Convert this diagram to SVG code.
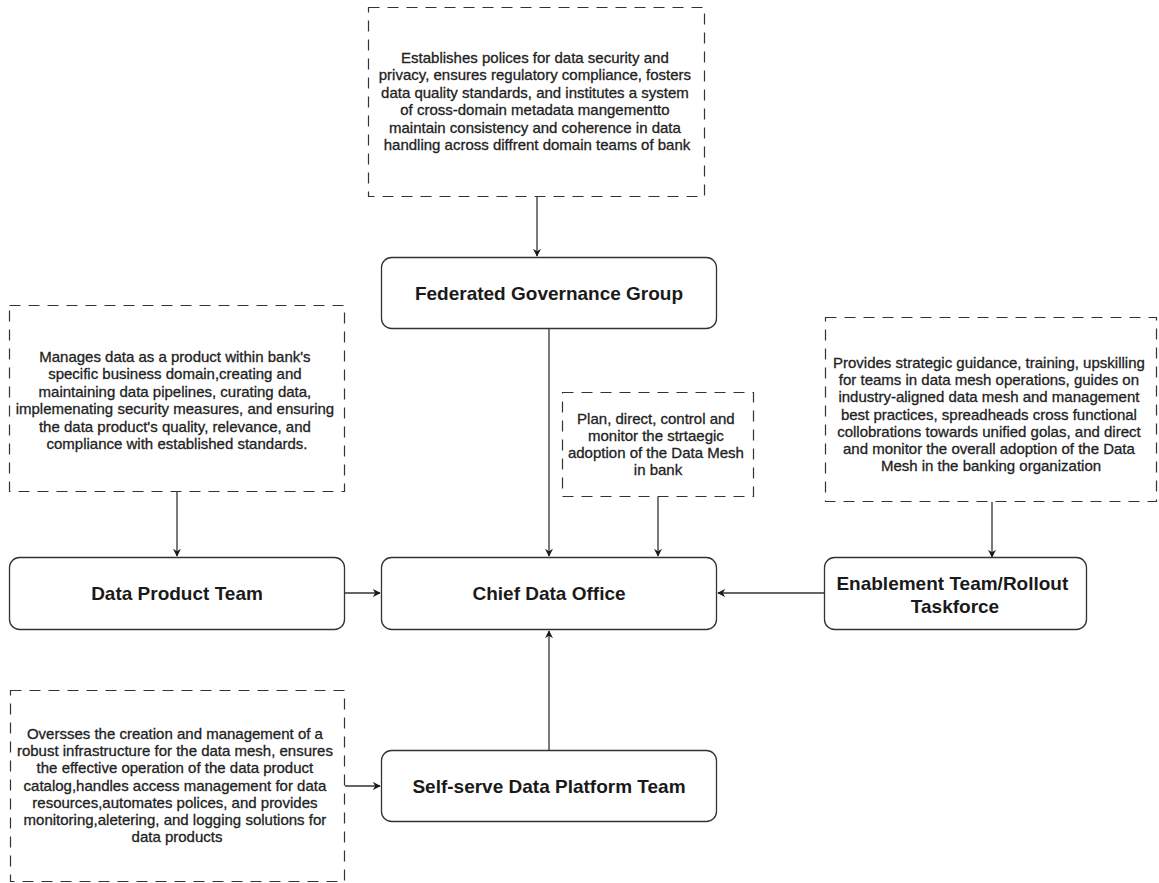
<svg xmlns="http://www.w3.org/2000/svg" width="1159" height="883" viewBox="0 0 1159 883">
  <defs>
    <marker id="arrow" viewBox="0 0 10 10" refX="9" refY="5" markerWidth="8" markerHeight="8" orient="auto" markerUnits="userSpaceOnUse">
      <path d="M0,0 L10,5 L0,10 L3,5 Z" fill="#1a1a1a"/>
    </marker>
    <style>
      .node { fill: #ffffff; stroke: #333333; stroke-width: 1.3; }
      .note { fill: #ffffff; stroke: #333333; stroke-width: 1.2; stroke-dasharray: 11 8; }
      .label { font-family: "Liberation Sans", Arial, sans-serif; font-weight: bold; font-size: 19px; fill: #1a1a1a; text-anchor: middle; }
      .desc { font-family: "Liberation Sans", Arial, sans-serif; font-size: 15px; fill: #222222; stroke: #222222; stroke-width: 0.3; text-anchor: middle; }
      .edge { fill: none; stroke: #333333; stroke-width: 1.3; marker-end: url(#arrow); }
    </style>
  </defs>
  <rect width="1159" height="883" fill="#ffffff"/>

  <!-- connectors -->
  <g id="connectors">
    <path class="edge" d="M537,197 L537,256"/>
    <path class="edge" d="M549,329 L549,556"/>
    <path class="edge" d="M658,497 L658,556"/>
    <path class="edge" d="M177,492 L177,556"/>
    <path class="edge" d="M992,502 L992,557"/>
    <path class="edge" d="M345,593 L380,593"/>
    <path class="edge" d="M824,593 L718,593"/>
    <path class="edge" d="M549,750 L549,631"/>
    <path class="edge" d="M345,786 L380,786"/>
  </g>

  <!-- governance description -->
  <g id="note-governance">
    <rect class="note" x="368.5" y="7.5" width="336" height="189"/>
    <text class="desc">
      <tspan x="537" y="63">Establishes polices for data security and</tspan>
      <tspan x="537" y="80.4">privacy, ensures regulatory compliance, fosters</tspan>
      <tspan x="537" y="97.8">data quality standards, and institutes a system</tspan>
      <tspan x="537" y="115.2">of cross-domain metadata mangementto</tspan>
      <tspan x="537" y="132.6">maintain consistency and coherence in data</tspan>
      <tspan x="537" y="150">handling across diffrent domain teams of bank</tspan>
    </text>
  </g>

  <g id="node-federated-governance">
    <rect class="node" x="381.5" y="257.5" width="335" height="71" rx="10"/>
    <text class="label" x="549" y="300">Federated Governance Group</text>
  </g>

  <!-- data product description -->
  <g id="note-data-product">
    <rect class="note" x="9.5" y="305.5" width="335" height="186"/>
    <text class="desc">
      <tspan x="177" y="362">Manages data as a product within bank's</tspan>
      <tspan x="177" y="379.4">specific business domain,creating and</tspan>
      <tspan x="177" y="396.8">maintaining data pipelines, curating data,</tspan>
      <tspan x="177" y="414.2">implemenating security measures, and ensuring</tspan>
      <tspan x="177" y="431.6">the data product's quality, relevance, and</tspan>
      <tspan x="177" y="449">compliance with established standards.</tspan>
    </text>
  </g>

  <!-- chief data office description -->
  <g id="note-chief-data-office">
    <rect class="note" x="562.5" y="392.5" width="191" height="104"/>
    <text class="desc">
      <tspan x="658" y="424">Plan, direct, control and</tspan>
      <tspan x="658" y="441">monitor the strtaegic</tspan>
      <tspan x="658" y="458">adoption of the Data Mesh</tspan>
      <tspan x="658" y="475">in bank</tspan>
    </text>
  </g>

  <!-- enablement description -->
  <g id="note-enablement">
    <rect class="note" x="825.5" y="317.5" width="331" height="184"/>
    <text class="desc">
      <tspan x="991" y="368">Provides strategic guidance, training, upskilling</tspan>
      <tspan x="991" y="385.2">for teams in data mesh operations, guides on</tspan>
      <tspan x="991" y="402.4">industry-aligned data mesh and management</tspan>
      <tspan x="991" y="419.6">best practices, spreadheads cross functional</tspan>
      <tspan x="991" y="436.8">collobrations towards unified golas, and direct</tspan>
      <tspan x="991" y="454">and monitor the overall adoption of the Data</tspan>
      <tspan x="991" y="471.2">Mesh in the banking organization</tspan>
    </text>
  </g>

  <g id="node-data-product-team">
    <rect class="node" x="9.5" y="557.5" width="335" height="72" rx="10"/>
    <text class="label" x="177" y="600">Data Product Team</text>
  </g>

  <g id="node-chief-data-office">
    <rect class="node" x="381.5" y="557.5" width="335" height="72" rx="10"/>
    <text class="label" x="549" y="600">Chief Data Office</text>
  </g>

  <g id="node-enablement">
    <rect class="node" x="824.5" y="557.5" width="262" height="72" rx="10"/>
    <text class="label">
      <tspan x="955" y="590">Enablement Team/Rollout</tspan>
      <tspan x="955" y="613">Taskforce</tspan>
    </text>
  </g>

  <!-- platform description -->
  <g id="note-platform">
    <rect class="note" x="10.5" y="690.5" width="334" height="191"/>
    <text class="desc">
      <tspan x="177" y="739">Oversses the creation and management of a</tspan>
      <tspan x="177" y="756.2">robust infrastructure for the data mesh, ensures</tspan>
      <tspan x="177" y="773.4">the effective operation of the data product</tspan>
      <tspan x="177" y="790.6">catalog,handles access management for data</tspan>
      <tspan x="177" y="807.8">resources,automates polices, and provides</tspan>
      <tspan x="177" y="825">monitoring,aletering, and logging solutions for</tspan>
      <tspan x="177" y="842.2">data products</tspan>
    </text>
  </g>

  <g id="node-self-serve-platform">
    <rect class="node" x="381.5" y="750.5" width="335" height="71" rx="10"/>
    <text class="label" x="549" y="793">Self-serve Data Platform Team</text>
  </g>
</svg>
